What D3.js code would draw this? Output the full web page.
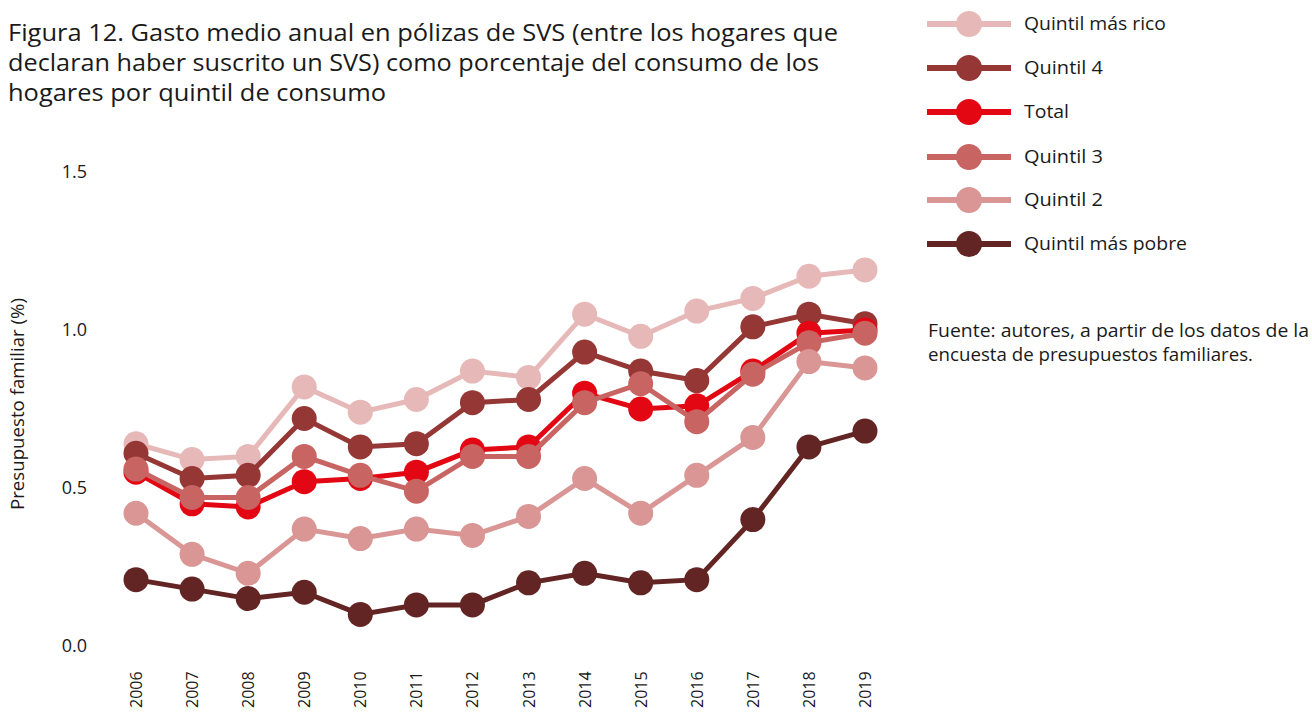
<html>
<head>
<meta charset="utf-8">
<script src="https://d3js.org/d3.v7.min.js"></script>
<style>
    body { margin: 0; background: #fff; }
    text { font-family: "Open Sans", "Noto Sans", sans-serif; fill: #1a1a1a; }
</style>
</head>
<body>
<svg id="chart" width="1312" height="716"></svg>
<script>
    // data
    const years = [2006, 2007, 2008, 2009, 2010, 2011, 2012, 2013, 2014, 2015, 2016, 2017, 2018, 2019];
    const seriesNames = ['Quintil más rico', 'Quintil 4', 'Total', 'Quintil 3', 'Quintil 2', 'Quintil más pobre'];
    const seriesColors = ['#e6b9b8', '#953735', '#e30613', '#c86462', '#d99694', '#632523'];
    const quintilRico = [0.64, 0.59, 0.60, 0.82, 0.74, 0.78, 0.87, 0.85, 1.05, 0.98, 1.06, 1.10, 1.17, 1.19];
    const quintil4 = [0.61, 0.53, 0.54, 0.72, 0.63, 0.64, 0.77, 0.78, 0.93, 0.87, 0.84, 1.01, 1.05, 1.02];
    const total = [0.55, 0.45, 0.44, 0.52, 0.53, 0.55, 0.62, 0.63, 0.80, 0.75, 0.76, 0.87, 0.99, 1.00];
    const quintil3 = [0.56, 0.47, 0.47, 0.60, 0.54, 0.49, 0.60, 0.60, 0.77, 0.83, 0.71, 0.86, 0.96, 0.99];
    const quintil2 = [0.42, 0.29, 0.23, 0.37, 0.34, 0.37, 0.35, 0.41, 0.53, 0.42, 0.54, 0.66, 0.90, 0.88];
    const quintilPobre = [0.21, 0.18, 0.15, 0.17, 0.10, 0.13, 0.13, 0.20, 0.23, 0.20, 0.21, 0.40, 0.63, 0.68];
    const seriesValues = [quintilRico, quintil4, total, quintil3, quintil2, quintilPobre];
    const yTicks = [0, 0.5, 1.0, 1.5];

    const titleLines = [
        'Figura 12. Gasto medio anual en pólizas de SVS (entre los hogares que',
        'declaran haber suscrito un SVS) como porcentaje del consumo de los',
        'hogares por quintil de consumo'
    ];
    const sourceLines = [
        'Fuente: autores, a partir de los datos de la',
        'encuesta de presupuestos familiares.'
    ];

    const svg = d3.select('svg#chart');

    // title
    const titleWidths = [830, 811, 378];
    svg.append('g').selectAll('text').data(titleLines).enter()
        .append('text')
        .attr('x', 8)
        .attr('y', (d, i) => 41 + i * 30)
        .attr('font-size', 24)
        .attr('textLength', (d, i) => titleWidths[i])
        .attr('lengthAdjust', 'spacingAndGlyphs')
        .text(d => d);

    // scales
    const x = d3.scalePoint().domain(years).range([136, 865]);
    const y = d3.scaleLinear().domain([0, 1.5]).range([646, 172]);

    // y axis labels
    svg.append('g').selectAll('text').data(yTicks).enter()
        .append('text')
        .attr('x', 87)
        .attr('y', d => y(d) + 6)
        .attr('text-anchor', 'end')
        .attr('font-size', 18)
        .text(d => d3.format('.1f')(d));

    svg.append('text')
        .attr('transform', 'translate(24,404) rotate(-90)')
        .attr('text-anchor', 'middle')
        .attr('font-size', 19)
        .attr('textLength', 212)
        .attr('lengthAdjust', 'spacingAndGlyphs')
        .text('Presupuesto familiar (%)');

    // x axis labels
    svg.append('g').selectAll('text').data(years).enter()
        .append('text')
        .attr('transform', d => `translate(${x(d) + 6},708) rotate(-90)`)
        .attr('font-family', '"Liberation Sans", Arial, sans-serif')
        .attr('font-size', 16)
        .text(d => d);

    // lines
    const line = d3.line()
        .x((d, i) => x(years[i]))
        .y(d => y(d));

    seriesValues.forEach(function(vals, s){
        const g = svg.append('g');
        g.append('path')
            .attr('d', line(vals))
            .attr('fill', 'none')
            .attr('stroke', seriesColors[s])
            .attr('stroke-width', 5);
        g.selectAll('circle').data(vals).enter()
            .append('circle')
            .attr('cx', (d, i) => x(years[i]))
            .attr('cy', d => y(d))
            .attr('r', 12.5)
            .attr('fill', seriesColors[s]);
    });

    // legend
    const legend = svg.append('g');
    const rowY = [24, 68, 112, 157, 200, 244];
    const legendWidths = [142, 79, 45, 79, 79, 163];
    seriesNames.forEach(function(name, i){
        const row = legend.append('g').attr('transform', `translate(0,${rowY[i]})`);
        row.append('line')
            .attr('x1', 927).attr('x2', 1011)
            .attr('stroke', seriesColors[i])
            .attr('stroke-width', 6);
        row.append('circle')
            .attr('cx', 969).attr('r', 13)
            .attr('fill', seriesColors[i]);
        row.append('text')
            .attr('x', 1024).attr('y', 6)
            .attr('font-size', 19)
            .attr('textLength', legendWidths[i])
            .attr('lengthAdjust', 'spacingAndGlyphs')
            .text(name);
    });

    // source
    const sourceWidths = [381, 325];
    svg.append('g').selectAll('text').data(sourceLines).enter()
        .append('text')
        .attr('x', 928)
        .attr('y', (d, i) => 337 + i * 24)
        .attr('font-size', 19)
        .attr('textLength', (d, i) => sourceWidths[i])
        .attr('lengthAdjust', 'spacingAndGlyphs')
        .text(d => d);
</script>
</body>
</html>
